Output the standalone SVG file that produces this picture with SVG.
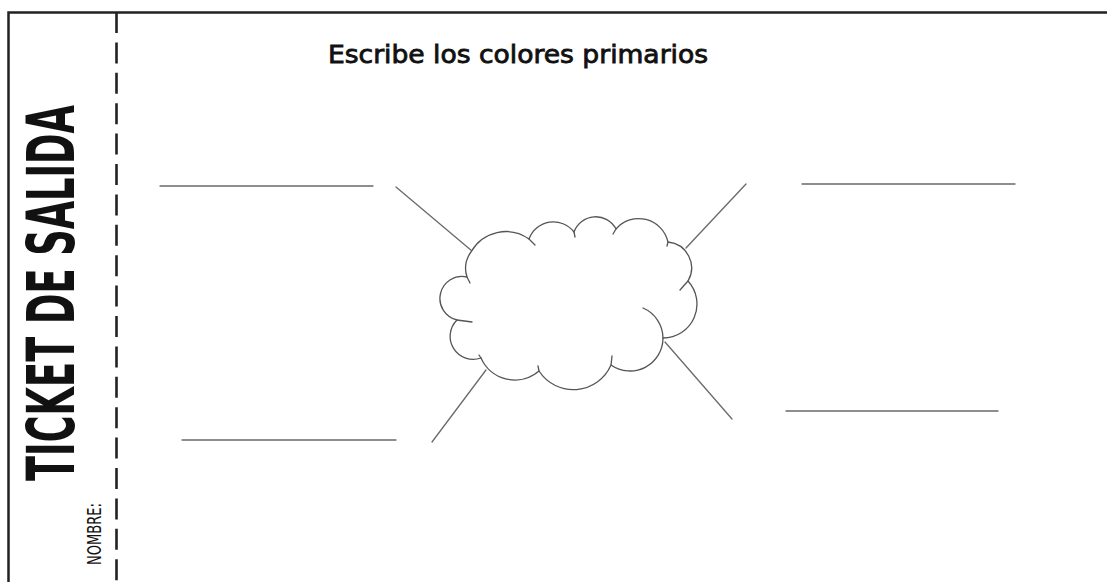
<svg xmlns="http://www.w3.org/2000/svg" width="1107" height="582" viewBox="0 0 1107 582">
  <style>
    .frame { stroke: #222; stroke-width: 2.5; fill: none; }
    .cut { stroke: #222; stroke-width: 2.6; fill: none; stroke-dasharray: 21 9.4; }
    .conn { stroke: #6a6a6a; stroke-width: 1.3; fill: none; stroke-linecap: round; }
    .cloud { stroke: #555; stroke-width: 1.3; fill: #fff; stroke-linejoin: round; }
    .tail { stroke: #555; stroke-width: 1.3; fill: none; stroke-linecap: round; }
    .title { font-family: "DejaVu Sans", "Liberation Sans", sans-serif; font-size: 24px; fill: #111; stroke: #111; stroke-width: 0.8; }
    .side { font-family: "DejaVu Sans Condensed", "Liberation Sans Narrow", "DejaVu Sans", sans-serif; font-weight: bold; fill: #111; }
    .name { font-family: "DejaVu Sans Condensed", "Liberation Sans Narrow", "DejaVu Sans", sans-serif; font-weight: normal; fill: #111; }
  </style>
  <rect width="1107" height="582" fill="#fff"/>
  <g id="frame">
    <path class="frame" d="M8.5,582 V12.5 H1107"/>
    <line class="cut" x1="116.5" y1="12" x2="116.5" y2="582"/>
  </g>
  <g id="side-labels">
    <text class="side" font-size="65" transform="translate(74,481) rotate(-90)" textLength="376" lengthAdjust="spacingAndGlyphs">TICKET DE SALIDA</text>
    <text class="name" font-size="20" transform="translate(101,565) rotate(-90)" textLength="62" lengthAdjust="spacingAndGlyphs">NOMBRE:</text>
  </g>
  <g id="title">
    <text class="title" x="328" y="63" textLength="380" lengthAdjust="spacingAndGlyphs">Escribe los colores primarios</text>
  </g>
  <g id="connectors">
    <line class="conn" x1="160" y1="186" x2="373" y2="186"/>
    <line class="conn" x1="396" y1="187" x2="472" y2="251"/>
    <line class="conn" x1="802" y1="184" x2="1015" y2="184"/>
    <line class="conn" x1="746" y1="184" x2="686" y2="248"/>
    <line class="conn" x1="786" y1="411" x2="998" y2="411"/>
    <line class="conn" x1="665" y1="342" x2="732" y2="419"/>
    <line class="conn" x1="182" y1="440" x2="396" y2="440"/>
    <line class="conn" x1="486" y1="370" x2="432" y2="442"/>
  </g>
  <g id="cloud">
    <path class="cloud" d="M471,252 A40,40 0 0 1 529,239 A26,26 0 0 1 574,232 A23,23 0 0 1 616,229 A30,30 0 0 1 668,242 A26,26 0 0 1 688,281 A34,34 0 0 1 663,338 A33,33 0 0 1 611,365 A41,41 0 0 1 539,371 A37,37 0 0 1 481,358 A23,23 0 0 1 457,320 A22,22 0 0 1 467,277 A28,28 0 0 1 471,252 Z"/>
    <path class="tail" d="M643,308 A33,33 0 0 1 663,338"/>
    <path class="tail" d="M529,239 L535,245 M574,232 L575,237 M616,229 L613,234 M668,242 L667,246 M688,281 L680,290 M611,365 L612,356 M539,371 L538,366 M481,358 L479,355 M457,320 L472,322 M467,277 L470,283"/>
  </g>
</svg>
